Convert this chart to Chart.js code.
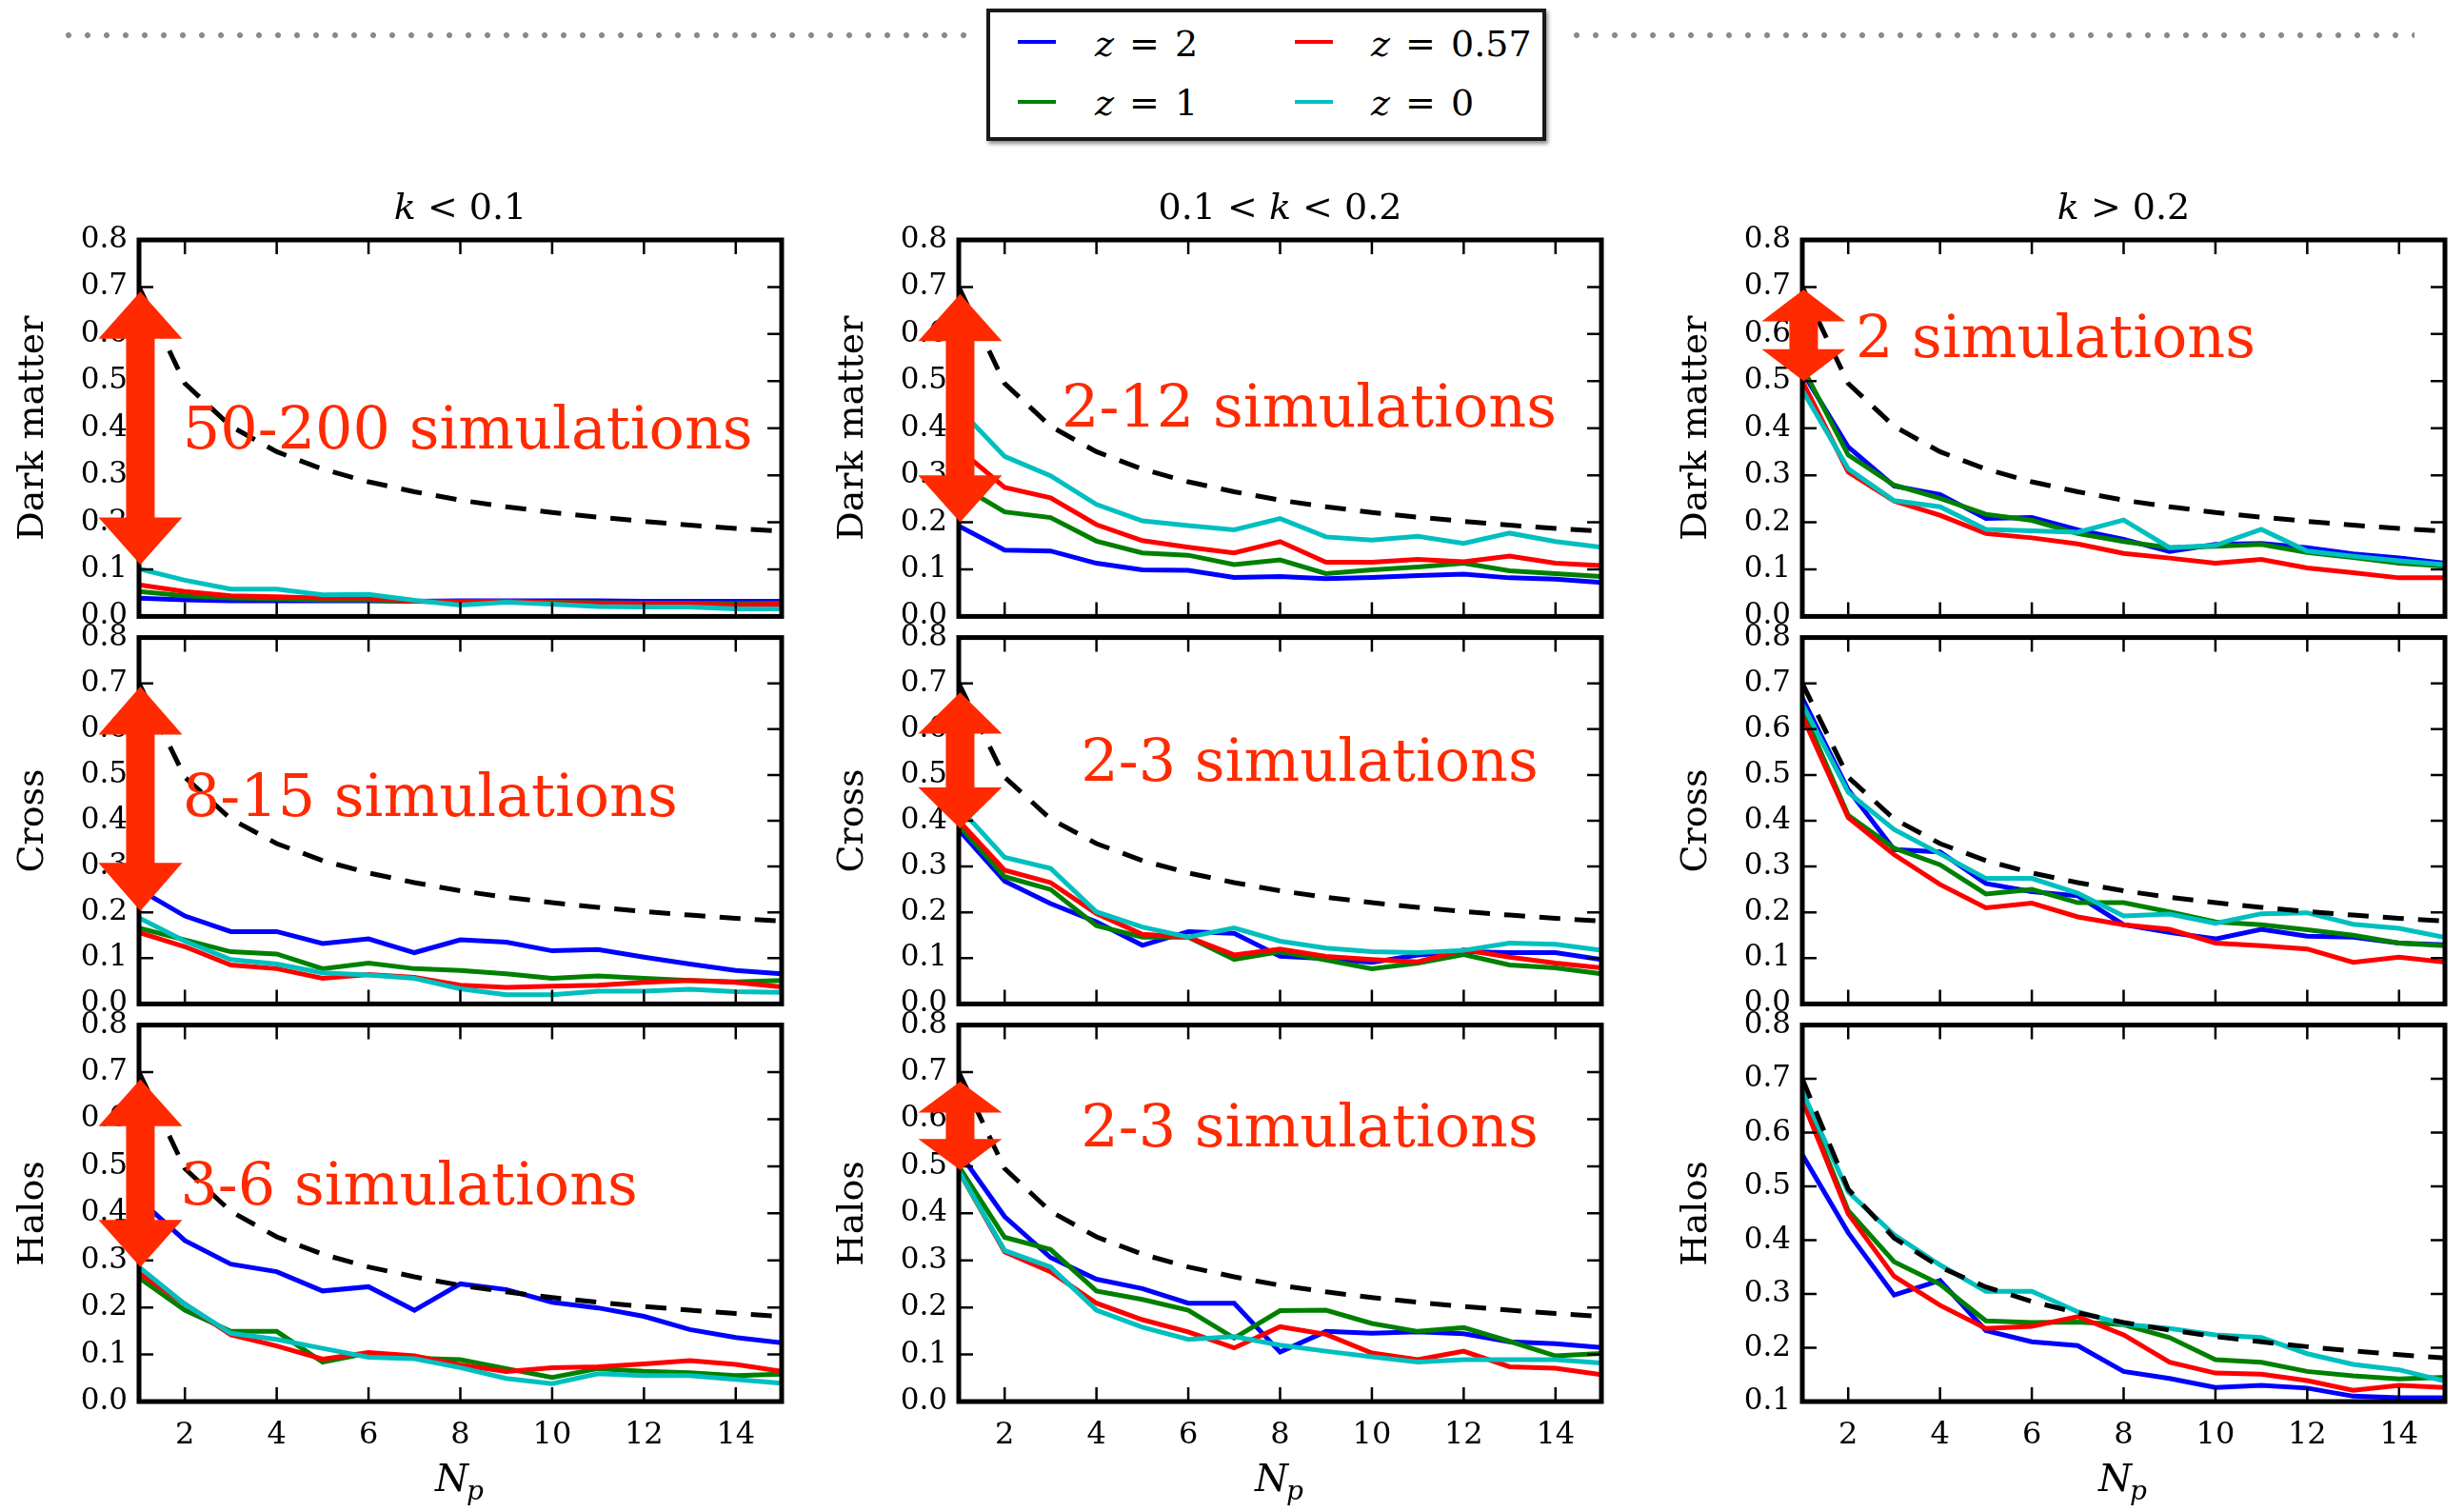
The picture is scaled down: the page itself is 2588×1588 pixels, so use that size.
<!DOCTYPE html>
<html>
<head>
<meta charset="utf-8">
<script src="https://cdn.jsdelivr.net/npm/chart.js@4.4.0/dist/chart.umd.min.js"></script>
<style>
body { margin: 0; background: #fff; width: 2588px; height: 1588px; position: relative; overflow: hidden; font-family: 'DejaVu Serif', serif; }
canvas { position: absolute; }
.dots { position: absolute; top: 32px; height: 10px;
  background-image: radial-gradient(circle, #8a8a8a 0, #8a8a8a 2.6px, transparent 3.4px);
  background-size: 20px 10px; background-repeat: repeat-x; }
#legend { position: absolute; left: 1036px; top: 9px; width: 580px; height: 131px; border: 4px solid #1a1a1a;
  box-shadow: 2px 3px 4px rgba(0,0,0,0.45); background: #fff; }
.ln { position: absolute; width: 40px; height: 4px; }
.lt { position: absolute; font-family: 'DejaVu Serif', serif; font-size: 38px; line-height: 40px; color: #000; word-spacing: 4px; white-space: pre; }
</style>
</head>
<body>
<div class="dots" style="left:62px;width:960px"></div>
<div class="dots" style="left:1646px;width:890px"></div>
<div id="legend"></div>
<div class="ln" style="left:1069px;top:42px;background:#0000ff"></div>
<div class="lt" style="left:1150px;top:26px"><i>z</i> = 2</div>
<div class="ln" style="left:1360px;top:42px;background:#ff0000"></div>
<div class="lt" style="left:1440px;top:26px"><i>z</i> = 0.57</div>
<div class="ln" style="left:1069px;top:105px;background:#008000"></div>
<div class="lt" style="left:1150px;top:88px"><i>z</i> = 1</div>
<div class="ln" style="left:1360px;top:105px;background:#00bfbf"></div>
<div class="lt" style="left:1440px;top:88px"><i>z</i> = 0</div>
<script>
// number of processors / simulations on the x axis
const np = [1, 2, 3, 4, 5, 6, 7, 8, 9, 10, 11, 12, 13, 14, 15];
const xTicks = [2, 4, 6, 8, 10, 12, 14];
const yTicks = [0, 0.1, 0.2, 0.3, 0.4, 0.5, 0.6, 0.7, 0.8];
const yTicksHalosHigh = [0.1, 0.2, 0.3, 0.4, 0.5, 0.6, 0.7, 0.8];

const seriesNames = ['z = 2', 'z = 1', 'z = 0.57', 'z = 0'];
const seriesColors = ['#0000ff', '#008000', '#ff0000', '#00bfbf'];
const rowNames = ['Dark matter', 'Cross', 'Halos'];

// dashed reference curve
const reference = [0.700, 0.495, 0.404, 0.350, 0.313, 0.286, 0.265, 0.247, 0.233, 0.221, 0.211, 0.202, 0.194, 0.187, 0.181];

// Dark matter, k < 0.1
const dmLow_z2   = [0.039, 0.035, 0.033, 0.033, 0.033, 0.033, 0.032, 0.033, 0.033, 0.033, 0.033, 0.032, 0.032, 0.032, 0.032];
const dmLow_z1   = [0.053, 0.044, 0.039, 0.037, 0.035, 0.035, 0.032, 0.031, 0.031, 0.030, 0.029, 0.028, 0.028, 0.027, 0.028];
const dmLow_z057 = [0.067, 0.053, 0.044, 0.042, 0.039, 0.039, 0.032, 0.031, 0.032, 0.029, 0.028, 0.026, 0.026, 0.024, 0.026];
const dmLow_z0   = [0.101, 0.077, 0.058, 0.058, 0.046, 0.047, 0.034, 0.024, 0.030, 0.026, 0.021, 0.020, 0.020, 0.016, 0.016];
// Dark matter, 0.1 < k < 0.2
const dmMid_z2   = [0.192, 0.141, 0.139, 0.113, 0.099, 0.098, 0.083, 0.085, 0.080, 0.083, 0.087, 0.090, 0.082, 0.079, 0.072];
const dmMid_z1   = [0.280, 0.222, 0.210, 0.160, 0.135, 0.130, 0.110, 0.120, 0.091, 0.099, 0.105, 0.113, 0.097, 0.091, 0.085];
const dmMid_z057 = [0.356, 0.274, 0.252, 0.195, 0.161, 0.147, 0.135, 0.159, 0.115, 0.115, 0.121, 0.116, 0.128, 0.113, 0.108];
const dmMid_z0   = [0.442, 0.340, 0.299, 0.238, 0.203, 0.193, 0.184, 0.208, 0.169, 0.162, 0.170, 0.155, 0.177, 0.159, 0.147];
// Dark matter, k > 0.2
const dmHigh_z2   = [0.520, 0.360, 0.277, 0.259, 0.208, 0.210, 0.184, 0.164, 0.138, 0.153, 0.155, 0.146, 0.133, 0.124, 0.113];
const dmHigh_z1   = [0.530, 0.343, 0.279, 0.251, 0.217, 0.204, 0.176, 0.159, 0.146, 0.149, 0.153, 0.136, 0.125, 0.113, 0.107];
const dmHigh_z057 = [0.500, 0.307, 0.245, 0.215, 0.176, 0.167, 0.154, 0.134, 0.124, 0.113, 0.121, 0.103, 0.093, 0.082, 0.082];
const dmHigh_z0   = [0.481, 0.314, 0.246, 0.233, 0.185, 0.182, 0.179, 0.205, 0.146, 0.151, 0.185, 0.139, 0.128, 0.118, 0.110];
// Cross, k < 0.1
const crossLow_z2   = [0.250, 0.192, 0.158, 0.158, 0.132, 0.142, 0.112, 0.140, 0.135, 0.116, 0.119, 0.102, 0.087, 0.073, 0.066];
const crossLow_z1   = [0.166, 0.140, 0.114, 0.109, 0.077, 0.089, 0.077, 0.073, 0.066, 0.056, 0.061, 0.056, 0.051, 0.048, 0.051];
const crossLow_z057 = [0.156, 0.125, 0.085, 0.077, 0.056, 0.064, 0.058, 0.041, 0.036, 0.039, 0.041, 0.047, 0.051, 0.047, 0.037];
const crossLow_z0   = [0.188, 0.137, 0.097, 0.087, 0.068, 0.063, 0.056, 0.033, 0.020, 0.020, 0.028, 0.028, 0.032, 0.027, 0.025];
// Cross, 0.1 < k < 0.2
const crossMid_z2   = [0.380, 0.268, 0.219, 0.179, 0.128, 0.158, 0.154, 0.104, 0.099, 0.091, 0.107, 0.114, 0.112, 0.112, 0.097];
const crossMid_z1   = [0.390, 0.278, 0.250, 0.171, 0.146, 0.146, 0.097, 0.114, 0.096, 0.077, 0.089, 0.108, 0.085, 0.079, 0.066];
const crossMid_z057 = [0.400, 0.292, 0.265, 0.197, 0.152, 0.146, 0.107, 0.120, 0.104, 0.097, 0.092, 0.118, 0.102, 0.089, 0.079];
const crossMid_z0   = [0.430, 0.320, 0.296, 0.201, 0.168, 0.146, 0.166, 0.137, 0.122, 0.114, 0.112, 0.117, 0.133, 0.130, 0.117];
// Cross, k > 0.2
const crossHigh_z2   = [0.668, 0.468, 0.337, 0.332, 0.263, 0.245, 0.236, 0.173, 0.156, 0.142, 0.163, 0.148, 0.146, 0.133, 0.129];
const crossHigh_z1   = [0.643, 0.412, 0.340, 0.304, 0.240, 0.250, 0.221, 0.221, 0.201, 0.179, 0.173, 0.162, 0.150, 0.133, 0.127];
const crossHigh_z057 = [0.629, 0.407, 0.326, 0.261, 0.210, 0.220, 0.190, 0.173, 0.163, 0.133, 0.127, 0.120, 0.091, 0.102, 0.091];
const crossHigh_z0   = [0.655, 0.462, 0.381, 0.328, 0.274, 0.274, 0.242, 0.192, 0.196, 0.176, 0.197, 0.199, 0.174, 0.165, 0.145];
// Halos, k < 0.1
const halosLow_z2   = [0.430, 0.342, 0.292, 0.276, 0.235, 0.244, 0.194, 0.250, 0.238, 0.211, 0.199, 0.181, 0.153, 0.136, 0.125];
const halosLow_z1   = [0.263, 0.194, 0.149, 0.149, 0.084, 0.103, 0.092, 0.089, 0.070, 0.051, 0.070, 0.064, 0.061, 0.055, 0.058];
const halosLow_z057 = [0.273, 0.207, 0.142, 0.118, 0.090, 0.104, 0.097, 0.078, 0.064, 0.072, 0.074, 0.080, 0.087, 0.079, 0.064];
const halosLow_z0   = [0.286, 0.207, 0.145, 0.132, 0.113, 0.094, 0.091, 0.072, 0.049, 0.038, 0.059, 0.055, 0.055, 0.047, 0.039];
// Halos, 0.1 < k < 0.2
const halosMid_z2   = [0.530, 0.393, 0.306, 0.260, 0.240, 0.209, 0.209, 0.105, 0.149, 0.145, 0.148, 0.144, 0.127, 0.123, 0.115];
const halosMid_z1   = [0.500, 0.349, 0.323, 0.235, 0.217, 0.194, 0.135, 0.193, 0.194, 0.166, 0.149, 0.157, 0.128, 0.097, 0.102];
const halosMid_z057 = [0.490, 0.318, 0.276, 0.209, 0.174, 0.148, 0.114, 0.159, 0.143, 0.103, 0.089, 0.107, 0.074, 0.071, 0.057];
const halosMid_z0   = [0.490, 0.321, 0.286, 0.194, 0.158, 0.132, 0.138, 0.120, 0.107, 0.095, 0.084, 0.089, 0.089, 0.089, 0.082];
// Halos, k > 0.2
const halosHigh_z2   = [0.559, 0.414, 0.298, 0.325, 0.232, 0.211, 0.204, 0.156, 0.143, 0.126, 0.130, 0.125, 0.110, 0.107, 0.107];
const halosHigh_z1   = [0.668, 0.455, 0.360, 0.318, 0.250, 0.247, 0.248, 0.243, 0.219, 0.178, 0.173, 0.156, 0.148, 0.142, 0.145];
const halosHigh_z057 = [0.660, 0.449, 0.333, 0.279, 0.236, 0.240, 0.258, 0.224, 0.173, 0.153, 0.151, 0.139, 0.121, 0.130, 0.126];
const halosHigh_z0   = [0.677, 0.490, 0.410, 0.354, 0.305, 0.305, 0.267, 0.244, 0.236, 0.224, 0.219, 0.189, 0.169, 0.159, 0.138];

// red annotations: arrow (top, bottom, head length in data units) and label position
const arrowTops    = [[0.690, 0.685, 0.695], [0.693, 0.680, null], [0.685, 0.680, null]];
const arrowBottoms = [[0.110, 0.200, 0.500], [0.203, 0.383, null], [0.286, 0.492, null]];
const arrowHeads   = [[0.100, 0.100, 0.068], [0.105, 0.090, null], [0.100, 0.066, null]];
const noteTexts = [['50-200 simulations', '2-12 simulations', '2 simulations'],
                   ['8-15 simulations', '2-3 simulations', null],
                   ['3-6 simulations', '2-3 simulations', null]];
const noteX = [[1.95, 3.24, 2.16], [1.95, 3.66, null], [1.90, 3.66, null]];
const noteY = [[0.357, 0.404, 0.552], [0.410, 0.487, null], [0.418, 0.542, null]];

const panelData = [
  [[dmLow_z2, dmLow_z1, dmLow_z057, dmLow_z0], [dmMid_z2, dmMid_z1, dmMid_z057, dmMid_z0], [dmHigh_z2, dmHigh_z1, dmHigh_z057, dmHigh_z0]],
  [[crossLow_z2, crossLow_z1, crossLow_z057, crossLow_z0], [crossMid_z2, crossMid_z1, crossMid_z057, crossMid_z0], [crossHigh_z2, crossHigh_z1, crossHigh_z057, crossHigh_z0]],
  [[halosLow_z2, halosLow_z1, halosLow_z057, halosLow_z0], [halosMid_z2, halosMid_z1, halosMid_z057, halosMid_z0], [halosHigh_z2, halosHigh_z1, halosHigh_z057, halosHigh_z0]]
];

const colTitles = [
  [['k', true], [' < 0.1', false]],
  [['0.1 < ', false], ['k', true], [' < 0.2', false]],
  [['k', true], [' > 0.2', false]]
];

const SERIF = "'DejaVu Serif', serif";
const RED = '#ff2a00';
const colLeft = [146, 1007, 1893];
const rowTop = [252, 659, 1066];
const plotW = 675, plotH = 406, padL = 146, padR = 16;

function drawParts(ctx, parts, size, cx, baseline) {
  let total = 0;
  parts.forEach(p => { ctx.font = (p[1] ? 'italic ' : '') + size + 'px ' + SERIF; total += ctx.measureText(p[0]).width; });
  let xx = cx - total / 2;
  ctx.textAlign = 'left';
  ctx.textBaseline = 'alphabetic';
  parts.forEach(p => {
    ctx.font = (p[1] ? 'italic ' : '') + size + 'px ' + SERIF;
    ctx.fillText(p[0], xx, baseline);
    xx += ctx.measureText(p[0]).width;
  });
}

const panelDeco = {
  id: 'panelDeco',
  afterDatasetsDraw(chart, args, o) {
    const {ctx, chartArea: a, scales: {x, y}} = chart;
    ctx.save();
    ctx.strokeStyle = '#000';
    ctx.lineWidth = 2.5;
    ctx.beginPath();
    xTicks.forEach(v => {
      const px = x.getPixelForValue(v);
      ctx.moveTo(px, a.bottom); ctx.lineTo(px, a.bottom - 15);
      ctx.moveTo(px, a.top); ctx.lineTo(px, a.top + 15);
    });
    o.yTicks.forEach(v => {
      const py = y.getPixelForValue(v);
      ctx.moveTo(a.left, py); ctx.lineTo(a.left + 15, py);
      ctx.moveTo(a.right, py); ctx.lineTo(a.right - 15, py);
    });
    ctx.stroke();
    ctx.lineWidth = 5;
    ctx.strokeRect(a.left, a.top, a.width, a.height);
    ctx.restore();
  },
  afterDraw(chart, args, o) {
    const {ctx, chartArea: a, scales: {x, y}} = chart;
    ctx.save();
    ctx.fillStyle = '#000';
    if (o.title) drawParts(ctx, o.title, 38, (a.left + a.right) / 2, a.top - 22);
    if (o.xTitle) {
      const cx = (a.left + a.right) / 2;
      ctx.font = 'italic 40px ' + SERIF;
      const wN = ctx.measureText('N').width;
      ctx.font = 'italic 28px ' + SERIF;
      const wp = ctx.measureText('p').width;
      const x0 = cx - (wN + wp) / 2;
      ctx.textAlign = 'left';
      ctx.font = 'italic 40px ' + SERIF;
      ctx.fillText('N', x0, a.bottom + 94);
      ctx.font = 'italic 28px ' + SERIF;
      ctx.fillText('p', x0 + wN - 2, a.bottom + 103);
    }
    if (o.arrowTop != null) {
      const cx = x.getPixelForValue(1.03);
      const yt = y.getPixelForValue(o.arrowTop);
      const yb = y.getPixelForValue(o.arrowBottom);
      const h = y.getPixelForValue(0) - y.getPixelForValue(o.arrowHead);
      const hw = 44, sw = 15;
      ctx.fillStyle = RED;
      ctx.beginPath();
      ctx.moveTo(cx, yt);
      ctx.lineTo(cx + hw, yt + h);
      ctx.lineTo(cx + sw, yt + h);
      ctx.lineTo(cx + sw, yb - h);
      ctx.lineTo(cx + hw, yb - h);
      ctx.lineTo(cx, yb);
      ctx.lineTo(cx - hw, yb - h);
      ctx.lineTo(cx - sw, yb - h);
      ctx.lineTo(cx - sw, yt + h);
      ctx.lineTo(cx - hw, yt + h);
      ctx.closePath();
      ctx.fill();
    }
    if (o.note) {
      ctx.fillStyle = RED;
      ctx.font = '62px ' + SERIF;
      ctx.textAlign = 'left';
      ctx.textBaseline = 'alphabetic';
      ctx.fillText(o.note, x.getPixelForValue(o.noteX), y.getPixelForValue(o.noteY));
    }
    ctx.restore();
  }
};

function makePanel(r, c) {
  const padT = r === 0 ? 80 : 20;
  const padB = r === 2 ? 140 : 20;
  const cv = document.createElement('canvas');
  cv.width = padL + plotW + padR;
  cv.height = padT + plotH + padB;
  cv.style.left = (colLeft[c] - padL) + 'px';
  cv.style.top = (rowTop[r] - padT) + 'px';
  document.body.appendChild(cv);

  const ticksY = (r === 2 && c === 2) ? yTicksHalosHigh : yTicks;
  const series = panelData[r][c];
  const datasets = series.map((vals, i) => ({
    label: seriesNames[i],
    data: np.map((n, j) => ({x: n, y: vals[j]})),
    borderColor: seriesColors[i],
    borderWidth: 5,
    pointRadius: 0,
    tension: 0,
    order: 4 - i
  }));
  datasets.push({
    label: 'reference',
    data: np.map((n, j) => ({x: n, y: reference[j]})),
    borderColor: '#000',
    borderWidth: 5,
    borderDash: [22, 15],
    pointRadius: 0,
    tension: 0,
    order: 0
  });

  new Chart(cv, {
    type: 'line',
    data: {datasets: datasets},
    options: {
      responsive: false,
      animation: false,
      devicePixelRatio: 1,
      layout: {padding: {left: 0, right: padR, top: padT, bottom: r === 2 ? 0 : padB}},
      scales: {
        x: {
          type: 'linear', min: 1, max: 15,
          afterBuildTicks: s => { s.ticks = xTicks.map(v => ({value: v})); },
          afterFit: s => { s.height = r === 2 ? padB : 0; },
          grid: {display: false, drawTicks: false},
          border: {display: false},
          ticks: {display: r === 2, autoSkip: false, maxRotation: 0, padding: 16, color: '#000',
                  font: {family: SERIF, size: 32}}
        },
        y: {
          min: ticksY[0], max: 0.8,
          afterBuildTicks: s => { s.ticks = ticksY.map(v => ({value: v})); },
          afterFit: s => { s.width = padL; },
          grid: {display: false, drawTicks: false},
          border: {display: false},
          ticks: {autoSkip: false, padding: 12, color: '#000', font: {family: SERIF, size: 31},
                  callback: v => v.toFixed(1)},
          title: {display: true, text: rowNames[r], color: '#000', font: {family: SERIF, size: 38},
                  padding: {top: 12, bottom: 0}}
        }
      },
      plugins: {
        legend: {display: false},
        tooltip: {enabled: false},
        panelDeco: {
          yTicks: ticksY,
          title: r === 0 ? colTitles[c] : null,
          xTitle: r === 2,
          arrowTop: arrowTops[r][c],
          arrowBottom: arrowBottoms[r][c],
          arrowHead: arrowHeads[r][c],
          note: noteTexts[r][c],
          noteX: noteX[r][c],
          noteY: noteY[r][c]
        }
      }
    },
    plugins: [panelDeco]
  });
}

for (let r = 0; r < 3; r++) {
  for (let c = 0; c < 3; c++) makePanel(r, c);
}
</script>
</body>
</html>
